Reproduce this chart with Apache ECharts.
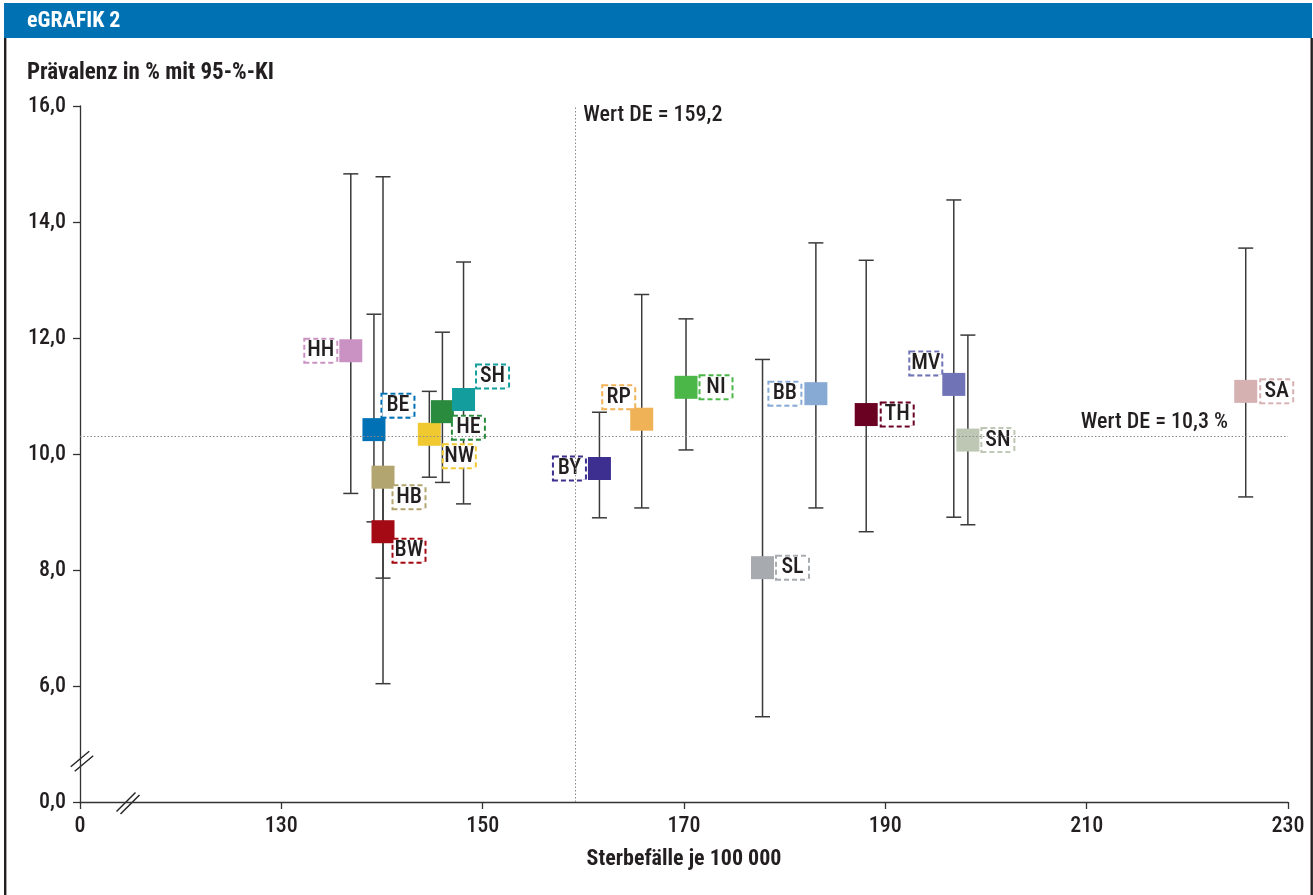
<!DOCTYPE html>
<html><head><meta charset="utf-8">
<script src="https://cdn.jsdelivr.net/npm/echarts@6/dist/echarts.min.js"></script>
<style>html,body{margin:0;padding:0;background:#fff}#c{width:1313px;height:895px}</style>
</head><body><div id="c"></div>
<script>
// ---- data ----
const states     = ['HH','BE','HB','BW','NW','HE','SH','BY','RP','NI','SL','BB','TH','MV','SN','SA'];
const deaths     = [136.9,139.2,140.1,140.1,144.7,146.0,148.1,161.6,165.8,170.2,177.8,183.1,188.1,196.8,198.2,225.8];
const prevalence = [11.78,10.42,9.60,8.66,10.34,10.73,10.94,9.75,10.60,11.15,8.04,11.04,10.68,11.20,10.24,11.08];
const ciLow      = [9.32,8.83,6.04,7.86,9.60,9.51,9.14,8.90,9.07,10.07,5.47,9.07,8.66,8.91,8.78,9.26];
const ciHigh     = [14.83,12.41,14.78,9.45,11.08,12.10,13.31,10.72,12.75,12.33,11.63,13.64,13.34,14.38,12.05,13.55];
const deValueX = 159.2;
const deValueY = 10.3;
const xTickValues = [110,130,150,170,190,210,230];
const xTickLabels = ['0','130','150','170','190','210','230'];
const yTickValues = [4,6,8,10,12,14,16];
const yTickLabels = ['0,0','6,0','8,0','10,0','12,0','14,0','16,0'];

// ---- styles / layout ----
const colors = ['#c992c2','#0071b5','#b3a56f','#a30a13','#f0c930','#2a8a3d','#139d9d','#3c2f8f','#f0b257','#4bb749','#a7abaf','#87aad5','#6a0022','#7073b6','#bdc7b3','#d6b1b1'];
const labelOffsets = [[-30,0],[24,-24],[26,20],[26,19],[30,22],[26,16],[29,-23],[-30,0],[-23,-22],[30,0],[30,0],[-31,0],[31,0],[-28,-21],[30,0],[31,0]];
const FONT = "'Liberation Sans Narrow','Roboto Condensed','DejaVu Sans Condensed',Roboto,sans-serif";
const TXT = '#231f20';
const FW = 500;

const chart = echarts.init(document.getElementById('c'));

const scatterData = states.map((s,i)=>({
  value:[deaths[i], prevalence[i]],
  itemStyle:{color:colors[i], opacity:1},
  label:{
    show:true, position:'inside', offset:labelOffsets[i], formatter:s,
    color:TXT, fontSize:22, fontWeight:FW, fontFamily:FONT,
    backgroundColor:'#fff', borderColor:colors[i], borderWidth:2, borderType:[5,3],
    padding:[1,3], width:25, height:20, lineHeight:20, align:'center', verticalAlign:'middle'
  }
}));

const errData = states.map((s,i)=>[deaths[i], ciLow[i], ciHigh[i]]);

chart.setOption({
  animation:false,
  backgroundColor:'#fff',
  grid:{left:80, right:25, top:106, bottom:93},
  xAxis:{
    type:'value', min:xTickValues[0], max:xTickValues[xTickValues.length-1], interval:20,
    axisLine:{show:true, lineStyle:{color:'#333', width:1.3}},
    axisTick:{show:true, length:7, lineStyle:{color:'#333', width:1.3}},
    splitLine:{show:false},
    axisLabel:{formatter:v=>{const k=xTickValues.indexOf(v); return k>=0?xTickLabels[k]:'';}, fontSize:22, fontWeight:FW, color:TXT, fontFamily:FONT, margin:13},
    name:'Sterbefälle je 100 000', nameLocation:'middle', nameGap:46,
    nameTextStyle:{fontSize:22, fontWeight:'bold', color:TXT, fontFamily:FONT}
  },
  yAxis:{
    type:'value', min:yTickValues[0], max:yTickValues[yTickValues.length-1], interval:2,
    axisLine:{show:true, lineStyle:{color:'#333', width:1.3}},
    axisTick:{show:true, length:7, lineStyle:{color:'#333', width:1.3}},
    splitLine:{show:false},
    axisLabel:{formatter:v=>{const k=yTickValues.indexOf(v); return k>=0?yTickLabels[k]:'';}, fontSize:22, fontWeight:FW, color:TXT, fontFamily:FONT, margin:14}
  },
  series:[
    {
      type:'custom', z:2,
      renderItem:(p,api)=>{
        const x=api.value(0);
        const lo=api.coord([x,api.value(1)]), hi=api.coord([x,api.value(2)]);
        const w=7.5, st={stroke:'#3a3a3a', lineWidth:1.5};
        return {type:'group', children:[
          {type:'line', shape:{x1:lo[0],y1:lo[1],x2:hi[0],y2:hi[1]}, style:st},
          {type:'line', shape:{x1:lo[0]-w,y1:lo[1],x2:lo[0]+w,y2:lo[1]}, style:st},
          {type:'line', shape:{x1:hi[0]-w,y1:hi[1],x2:hi[0]+w,y2:hi[1]}, style:st}
        ]};
      },
      encode:{x:0, y:[1,2]},
      data:errData,
      markLine:{
        silent:true, symbol:'none', animation:false,
        lineStyle:{type:[1.5,2], color:'#8a8a8a', width:1},
        label:{show:false},
        data:[{xAxis:deValueX},{yAxis:deValueY}]
      }
    },
    {
      type:'scatter', z:3, symbol:'rect', symbolSize:23,
      data:scatterData
    }
  ]
});

const px = (x,y)=>chart.convertToPixel({gridIndex:0},[x,y]);
const vTop = px(deValueX, yTickValues[yTickValues.length-1]);
const hEnd = px(xTickValues[xTickValues.length-1], deValueY);
const origin = px(xTickValues[0], yTickValues[0]);
const yBreak = [origin[0], origin[1]-43];
const xBreak = [origin[0]+46, origin[1]];
const brk = (c,dx,dy,sx,sy)=>[
  {type:'line', shape:{x1:c[0]-dx/2, y1:c[1]+dy/2, x2:c[0]+dx/2, y2:c[1]-dy/2}, style:{stroke:'#222', lineWidth:1.4}},
  {type:'line', shape:{x1:c[0]-dx/2+sx, y1:c[1]+dy/2+sy, x2:c[0]+dx/2+sx, y2:c[1]-dy/2+sy}, style:{stroke:'#222', lineWidth:1.4}}
];

chart.setOption({
  graphic:[
    {type:'rect', shape:{x:4, y:3, width:1308, height:35}, style:{fill:'#0071b3'}, z:1},
    {type:'rect', shape:{x:4, y:38, width:2.4, height:857}, style:{fill:'#231f20'}, z:1},
    {type:'rect', shape:{x:1310.5, y:38, width:2.4, height:857}, style:{fill:'#231f20'}, z:1},
    {type:'text', x:27, y:21, style:{text:'eGRAFIK 2', fill:'#fff', font:"bold 22px "+FONT, textVerticalAlign:'middle', verticalAlign:'middle'}, z:5},
    {type:'text', x:27, y:73, style:{text:'Prävalenz in % mit 95-%-KI', fill:TXT, font:"bold 23px "+FONT, textVerticalAlign:'middle', verticalAlign:'middle'}, z:5},
    {type:'text', x:vTop[0]+8, y:vTop[1]+9, style:{text:'Wert DE = 159,2', fill:TXT, font:"500 22px "+FONT, textVerticalAlign:'middle', verticalAlign:'middle'}, z:5},
    {type:'text', x:hEnd[0]-60, y:hEnd[1]-14, style:{text:'Wert DE = 10,3 %', fill:TXT, font:"500 22px "+FONT, textAlign:'right', align:'right', textVerticalAlign:'middle', verticalAlign:'middle'}, z:5},
    ...brk(yBreak,18.5,15.5,4,4.5),
    ...brk(xBreak,19,19,4,2.6)
  ]
});
</script>
</body></html>
